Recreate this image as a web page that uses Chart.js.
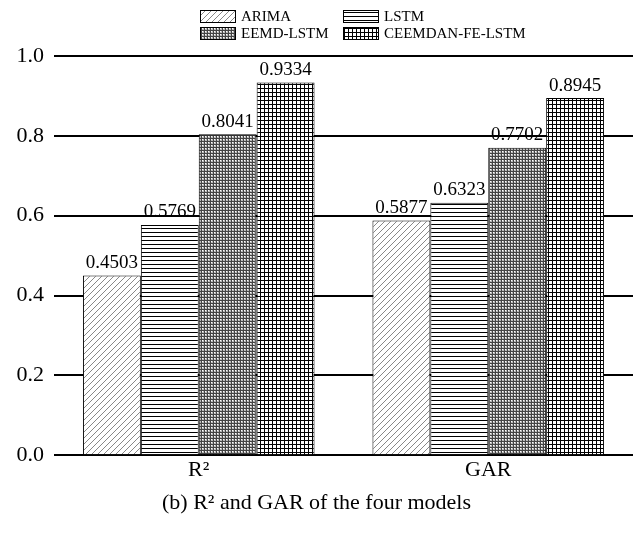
<!DOCTYPE html>
<html>
<head>
<meta charset="utf-8">
<script src="https://cdn.jsdelivr.net/npm/chart.js@4"></script>
<style>
   body { margin: 0; background: #fff; }
   #box { width: 633px; height: 540px; }
</style>
</head>
<body>
<div id="box"><canvas id="myChart" width="633" height="540"></canvas></div>
<script>
// ============  data  ============
const categories = ['R²', 'GAR'];
const models = ['ARIMA', 'LSTM', 'EEMD-LSTM', 'CEEMDAN-FE-LSTM'];
const arima = [0.4503, 0.5877];
const lstm = [0.5769, 0.6323];
const eemd = [0.8041, 0.7702];
const ceemdan = [0.9334, 0.8945];
const yTicks = [0, 0.2, 0.4, 0.6, 0.8, 1.0];

const serif = "'Liberation Serif', 'DejaVu Serif', serif";

// ============  hatch patterns  ============
function makePattern(size, draw) {
   const c = document.createElement('canvas');
   c.width = size; c.height = size;
   const p = c.getContext('2d');
   p.fillStyle = '#fff';
   p.fillRect(0, 0, size, size);
   draw(p, size);
   return p.createPattern(c, 'repeat');
}

const ctx = document.getElementById('myChart').getContext('2d');

const patDiag = makePattern(6, function(p, s) {
   p.strokeStyle = '#888';
   p.lineWidth = 1;
   p.beginPath();
   p.moveTo(0, s); p.lineTo(s, 0);
   p.moveTo(-1, 1); p.lineTo(1, -1);
   p.moveTo(s - 1, s + 1); p.lineTo(s + 1, s - 1);
   p.stroke();
});
const patHoriz = makePattern(4, function(p, s) {
   p.fillStyle = '#000';
   p.fillRect(0, 0, s, 1);
});
const patFine = makePattern(3, function(p, s) {
   p.fillStyle = '#bbb';
   p.fillRect(0, 0, s, s);
   p.fillStyle = '#444';
   p.fillRect(0, 0, s, 1);
   p.fillRect(0, 0, 1, s);
   p.fillStyle = '#fff';
   p.fillRect(1, 1, 1, 1);
});
const patGrid = makePattern(4, function(p, s) {
   p.fillStyle = '#000';
   p.fillRect(0, 0, s, 1);
   p.fillRect(0, 0, 1, s);
});
const patterns = [patDiag, patHoriz, patFine, patGrid];

// ============  plugins  ============
const valueLabels = {
   id: 'valueLabels',
   afterDatasetsDraw(chart) {
      const c = chart.ctx;
      c.save();
      c.font = '19px ' + serif;
      c.fillStyle = '#000';
      c.textAlign = 'center';
      c.textBaseline = 'bottom';
      chart.data.datasets.forEach(function(ds, i) {
         chart.getDatasetMeta(i).data.forEach(function(bar, j) {
            c.fillText(ds.data[j].toFixed(4), bar.x, bar.y - 3);
         });
      });
      c.restore();
   }
};

const topLegend = {
   id: 'topLegend',
   afterDraw(chart) {
      const c = chart.ctx;
      const cols = [200, 343];
      const rows = [16, 33];
      c.save();
      c.font = '15px ' + serif;
      c.textBaseline = 'middle';
      chart.data.datasets.forEach(function(ds, i) {
         const x = cols[i % 2], y = rows[Math.floor(i / 2)];
         c.fillStyle = ds.backgroundColor;
         c.fillRect(x, y - 6, 35, 12);
         c.strokeStyle = '#000';
         c.lineWidth = 1;
         c.strokeRect(x + 0.5, y - 5.5, 35, 12);
         c.fillStyle = '#000';
         c.fillText(ds.label, x + 41, y + 1);
      });
      c.restore();
   }
};

// ============  chart  ============
const series = [arima, lstm, eemd, ceemdan];

let myChart = new Chart(ctx, {
   type: 'bar',
   data: {
      labels: categories,
      datasets: models.map(function(m, i) {
         return {
            label: m,
            data: series[i],
            backgroundColor: patterns[i],
            borderColor: '#000',
            borderWidth: 1,
            borderSkipped: 'bottom',
         };
      }),
   },
   options: {
      responsive: false,
      animation: false,
      categoryPercentage: 0.8,
      barPercentage: 1,
      layout: {
         padding: { left: 0, right: 0, top: 56, bottom: 0 },
      },
      scales: {
         x: {
            grid: { display: false, drawTicks: false },
            border: { display: false },
            ticks: {
               color: '#000',
               font: { family: serif, size: 22 },
               padding: 2,
            },
         },
         y: {
            min: 0,
            max: 1,
            afterBuildTicks: function(axis) {
               axis.ticks = yTicks.map(function(v) { return { value: v }; });
            },
            afterFit: function(axis) {
               axis.width = 54;
            },
            grid: {
               color: '#000',
               lineWidth: 2,
               drawTicks: false,
            },
            border: { display: false },
            ticks: {
               color: '#000',
               font: { family: serif, size: 22 },
               padding: 10,
               callback: function(v) { return v.toFixed(1); },
            },
         },
      },
      plugins: {
         legend: { display: false },
         tooltip: { enabled: false },
         title: {
            display: true,
            position: 'bottom',
            text: '(b) R² and GAR of the four models',
            color: '#000',
            font: { family: serif, size: 22, weight: 'normal' },
            padding: { top: 4, bottom: 24 },
         },
      },
   },
   plugins: [valueLabels, topLegend],
});
</script>
</body>
</html>
